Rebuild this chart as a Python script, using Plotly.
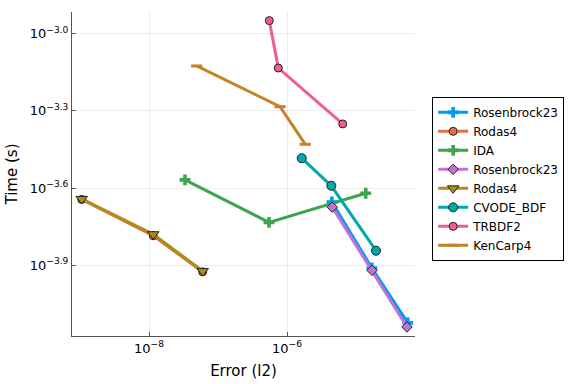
import plotly.graph_objects as go

# Data (log10 values)
ros23_a_err = [-5.35, -4.77, -4.25]
ros23_a_time = [-3.654, -3.910, -4.123]
rodas4_a_err = [-8.975, -7.938, -7.222]
rodas4_a_time = [-3.644, -3.785, -3.925]
ida_err = [-7.478, -6.261, -4.859]
ida_time = [-3.568, -3.733, -3.620]
ros23_b_err = [-5.344, -4.768, -4.261]
ros23_b_time = [-3.674, -3.919, -4.139]
rodas4_b_err = [-8.975, -7.938, -7.222]
rodas4_b_time = [-3.642, -3.779, -3.922]
cvode_err = [-5.787, -5.358, -4.710]
cvode_time = [-3.484, -3.591, -3.843]
trbdf2_err = [-6.257, -6.126, -5.193]
trbdf2_time = [-2.950, -3.134, -3.351]
kencarp4_err = [-7.309, -6.101, -5.735]
kencarp4_time = [-3.126, -3.284, -3.430]

y_tick_exp = [-3.0, -3.3, -3.6, -3.9]
x_tick_exp = [-8, -6]

series = [
    ("Rosenbrock23", ros23_a_err, ros23_a_time, "#009AFA", "cross", 9, 0),
    ("Rodas4", rodas4_a_err, rodas4_a_time, "#E36F47", "circle", 8, 1),
    ("IDA", ida_err, ida_time, "#3EA44E", "cross", 9, 0),
    ("Rosenbrock23", ros23_b_err, ros23_b_time, "#C371D2", "diamond", 8, 1),
    ("Rodas4", rodas4_b_err, rodas4_b_time, "#AC8E18", "triangle-down", 10, 1),
    ("CVODE_BDF", cvode_err, cvode_time, "#00A9AD", "circle", 9, 1),
    ("TRBDF2", trbdf2_err, trbdf2_time, "#ED5E93", "circle", 8, 1),
    ("KenCarp4", kencarp4_err, kencarp4_time, "#C68225", "line-ew", 8, 3),
]

fig = go.Figure()
for name, ex, ty, col, sym, sz, lw in series:
    if sym == "line-ew":
        marker = dict(symbol=sym, size=sz, line=dict(color=col, width=3))
    else:
        marker = dict(symbol=sym, size=sz, color=col,
                      line=dict(color="#222222", width=lw))
    fig.add_trace(go.Scatter(
        x=[10 ** v for v in ex], y=[10 ** v for v in ty],
        mode="lines+markers", name=name,
        line=dict(color=col, width=3), marker=marker,
    ))

fig.update_layout(
    width=576, height=384,
    margin=dict(l=72, r=161, t=12, b=48, autoexpand=False),
    paper_bgcolor="white", plot_bgcolor="white",
    font=dict(family="DejaVu Sans", color="#000000", size=13),
    legend=dict(x=1.05, y=0.485, xanchor="left", yanchor="middle",
                bordercolor="#000000", borderwidth=1,
                font=dict(size=12), bgcolor="white"),
)
fig.update_xaxes(
    type="log", range=[-9.116, -4.145], automargin=False,
    tickvals=[10 ** v for v in x_tick_exp],
    ticktext=["10<sup>−%d</sup>" % abs(v) for v in x_tick_exp],
    showgrid=True, gridcolor="rgba(0,0,0,0.07)", gridwidth=0.5,
    showline=True, linecolor="#555555", linewidth=1,
    ticks="inside", ticklen=4, tickcolor="#555555",
    zeroline=False, mirror=False,
    title=dict(text="Error (l2)", font=dict(size=15), standoff=10),
)
fig.update_yaxes(
    type="log", range=[-4.174, -2.9166], automargin=False,
    tickvals=[10 ** v for v in y_tick_exp],
    ticktext=["10<sup>−%.1f</sup>" % abs(v) for v in y_tick_exp],
    showgrid=True, gridcolor="rgba(0,0,0,0.07)", gridwidth=0.5,
    showline=True, linecolor="#555555", linewidth=1,
    ticks="inside", ticklen=4, tickcolor="#555555",
    zeroline=False, mirror=False,
    title=dict(text="Time (s)", font=dict(size=15), standoff=8),
)

fig.write_html("out.html", config={"displayModeBar": False},
               post_script="document.body.style.margin='0';document.body.style.padding='0';")
